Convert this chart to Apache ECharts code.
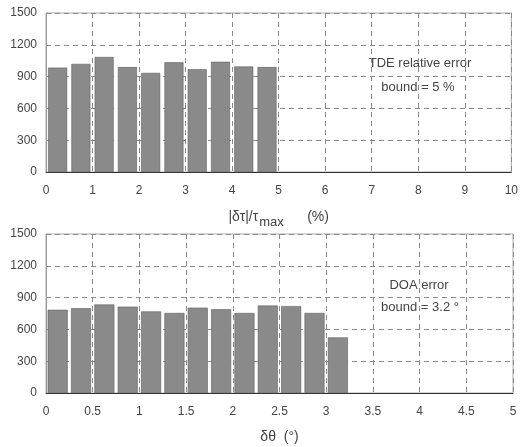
<!DOCTYPE html>
<html>
<head>
<meta charset="utf-8">
<script src="https://cdn.jsdelivr.net/npm/echarts@6/dist/echarts.min.js"></script>
<style>
html,body{margin:0;padding:0;background:#fff;}
#c{width:521px;height:447px;}
</style>
</head>
<body>
<div id="c"></div>
<script>
// ---- data ----
var tdeBinCenters = [0.25, 0.75, 1.25, 1.75, 2.25, 2.75, 3.25, 3.75, 4.25, 4.75];
var tdeCounts     = [985, 1020, 1085, 990, 935, 1035, 970, 1040, 995, 990];
var doaBinCenters = [0.125, 0.375, 0.625, 0.875, 1.125, 1.375, 1.625, 1.875, 2.125, 2.375, 2.625, 2.875, 3.125];
var doaCounts     = [785, 800, 835, 815, 770, 755, 805, 790, 755, 825, 820, 755, 525];
var yTicks = [0, 300, 600, 900, 1200, 1500];
var tdeXTicks = [0, 1, 2, 3, 4, 5, 6, 7, 8, 9, 10];
var doaXTicks = [0, 0.5, 1, 1.5, 2, 2.5, 3, 3.5, 4, 4.5, 5];
var tdeNote = ['TDE relative error', 'bound = 5 %'];
var doaNote = ['DOA error', 'bound = 3.2 °'];

function pairs(xs, ys){ return xs.map(function(x,i){ return [x, ys[i]]; }); }

var font = 'Liberation Sans';
var labelStyle = {color:'#444', fontFamily:font, fontSize:12};
var split = {show:true, lineStyle:{color:'#8a8a8a', type:[5,4], width:1}};

function xAxis(idx, ticks, name){
  return {
    type:'value', gridIndex:idx, min:ticks[0], max:ticks[ticks.length-1],
    interval:ticks[1]-ticks[0],
    axisLine:{show:true, onZero:false, lineStyle:{color:'#333', width:1}},
    axisTick:{show:false},
    axisLabel:Object.assign({margin:13, formatter:function(v){return String(v);}}, labelStyle),
    splitLine:split,
    name:name.text, nameLocation:'middle', nameGap:name.gap,
    nameTextStyle:name.style
  };
}
function yAxis(idx){
  return {
    type:'value', gridIndex:idx, min:yTicks[0], max:yTicks[yTicks.length-1], interval:yTicks[1]-yTicks[0],
    axisLine:{show:true, lineStyle:{color:'#999', width:1}},
    axisTick:{show:false},
    axisLabel:Object.assign({margin:9, formatter:function(v){return String(v);}}, labelStyle),
    splitLine:split
  };
}

var noteFont = '13px "' + font + '"';
var chart = echarts.init(document.getElementById('c'), null, {renderer:'canvas'});
chart.setOption({
  animation:false,
  backgroundColor:'#fff',
  grid:[
    {left:46, right:8, top:13, height:159, show:true, borderColor:'#aaa', borderWidth:1},
    {left:46, right:8, top:234, height:159, show:true, borderColor:'#aaa', borderWidth:1}
  ],
  xAxis:[
    xAxis(0, tdeXTicks, {text:'{a||δτ|/τ}{s|max}{a|      (%)}', gap:33,
      style:{rich:{a:{fontFamily:font, fontSize:14, color:'#444'}, s:{fontFamily:font, fontSize:13, color:'#444', padding:[11,0,0,1]}}}}),
    xAxis(1, doaXTicks, {text:'δθ  (°)', gap:37, style:{fontFamily:font, fontSize:14, color:'#444'}})
  ],
  yAxis:[yAxis(0), yAxis(1)],
  series:[
    {type:'bar', xAxisIndex:0, yAxisIndex:0, barWidth:19, data:pairs(tdeBinCenters, tdeCounts),
     itemStyle:{color:'#8a8a8a', borderColor:'#606060', borderWidth:0.6}},
    {type:'bar', xAxisIndex:1, yAxisIndex:1, barWidth:20, data:pairs(doaBinCenters, doaCounts),
     itemStyle:{color:'#8a8a8a', borderColor:'#606060', borderWidth:0.6}}
  ],
  graphic:[
    {type:'text', x:420, y:63, style:{text:tdeNote[0], align:'center', verticalAlign:'middle', fill:'#444', font:noteFont}},
    {type:'text', x:418, y:87, style:{text:tdeNote[1], align:'center', verticalAlign:'middle', fill:'#444', font:noteFont}},
    {type:'text', x:419, y:285, style:{text:doaNote[0], align:'center', verticalAlign:'middle', fill:'#444', font:noteFont}},
    {type:'text', x:420, y:307, style:{text:doaNote[1], align:'center', verticalAlign:'middle', fill:'#444', font:noteFont}}
  ]
});
</script>
</body>
</html>
